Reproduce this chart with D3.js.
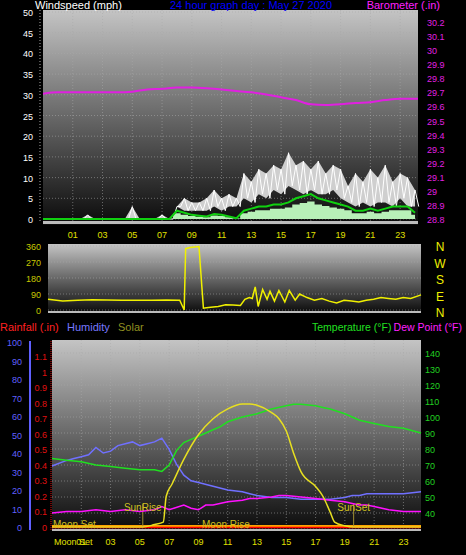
<!DOCTYPE html>
<html><head><meta charset="utf-8">
<script src="https://cdn.jsdelivr.net/npm/d3@7"></script>
<style>body{margin:0;background:#000}svg{display:block;font-family:"Liberation Sans",Arial,sans-serif}</style>
</head><body><div id="chart"></div>
<script>
// half-hour samples from -1h to 24h
var windGustHigh = [0,0,0,0,0,0,1,0,0,0,0,0,3,0,0,0,1,0,3,5,4,4,5,7,5,6,5,11,9,12,11,13,12,16,13,14,12,14,11,13,12,8,11,9,12,10,13,9,11,10,7];
var windGustLow  = [0,0,0,0,0,0,0,0,0,0,0,0,0,0,0,0,0,0,3,2,2,2,2,3,2,3,3,5,4,6,5,7,6,8,7,6,7,6,6,7,5,4,3,4,3,4,4,3,5,3,3];
var windAvg      = [0,0,0,0,0,0,0,0,0,0,0,0,0,0,0,0,0,0,2,1.5,1,0.8,0.6,1.2,1,0.6,0.2,2,2.5,3,3,3.5,3.5,4,5,5.5,6,5,4.5,4,3.5,3,2,2,2.5,2,2.5,3,3,3,1.5];
var baroHours  = [-1,0,1,2,3,4,5,6,7,8,9,10,11,12,13,14,15,16,17,18,19,20,21,22,23,24.2];
var baroValues = [29.69,29.70,29.70,29.70,29.70,29.70,29.705,29.72,29.725,29.735,29.735,29.73,29.72,29.71,29.70,29.685,29.665,29.645,29.615,29.61,29.615,29.625,29.63,29.645,29.655,29.655];
var dirHours  = [-1,0,1,2,3,4,5,6,7,7.9,8.2,8.3,8.6,9.2,9.5,9.7,10,10.5,11,11.5,12,12.3,12.6,12.8,13,13.2,13.5,13.8,14,14.3,14.6,15,15.3,15.7,16,16.5,17,17.5,18,18.5,19,19.5,20,20.5,21,21.5,22,22.5,23,23.5,24.2];
var dirValues = [60,50,55,57,56,55,55,55,56,55,0,345,352,357,10,12,15,20,30,28,25,60,70,65,130,20,115,60,105,50,110,45,110,55,90,70,55,65,50,40,55,50,45,55,60,70,65,60,70,65,85];
var tempHours  = [-1,0,1,2,3,4,5,6,6.5,7,7.5,8,8.5,9,10,10.5,11,12,13,14,15,15.5,16,17,17.5,18,19,19.5,20,21,22,23,24.2];
var tempValues = [74,73,72,70,69,68,67,67,66,70,79,84,86,88,92,94,97,100,102,105,107,108,108,107,106,105,102,100,98,96,94,93,90];
var humHours  = [-1,0,0.5,1,1.5,2,2.5,3,3.5,4,4.5,5,5.5,6,6.5,7,7.5,8,8.5,9,10,11,12,12.5,13,14,15,16,17,18,19,19.5,20,20.5,21,22,23,24.2];
var humValues = [33,36,37,38,39,43,40,41,44,45,46,44,45,46,48,42,34,28,25,24,22,20,19,18,17,16,16,15,15,15,16,17,17,18,18,18,18,19];
var dewHours  = [-1,0,1,2,3,4,5,6,6.5,7,8,8.5,9,9.5,10,11,12,12.5,13,14,14.5,15,16,17,18,19,19.5,20,20.5,21,22,23,24.2];
var dewValues = [40,41,41,42,41,42,41,42,44,42,45,43,42,45,45,47,48,49,49,50,51,51,50,49,48,47,46,45,45,44,42,41,41];
var solarHours  = [-1,5.2,6,6.6,6.8,7.2,8,9,10,11,12,12.5,13,14,14.5,15,15.5,16,17,17.5,18,18.3,19,19.6,24.2];
var solarValues = [0,0,0.02,0.04,0.25,0.35,0.55,0.75,0.88,0.96,1,1,0.99,0.93,0.88,0.78,0.6,0.45,0.33,0.25,0.12,0.04,0.01,0,0];
var hourTicks = [1,3,5,7,9,11,13,15,17,19,21,23];
var windTicks = d3.range(0, 55, 5);
var baroTicks = [28.8,28.9,29,29.1,29.2,29.3,29.4,29.5,29.6,29.7,29.8,29.9,30,30.1,30.2];
var dirTicks = [0,90,180,270,360];
var compass = ["N","W","S","E","N"];
var humTicks = d3.range(0, 110, 10);
var rainTicks = [0,0.1,0.2,0.3,0.4,0.5,0.6,0.7,0.8,0.9,1,1.1];
var tempTicks = [40,50,60,70,80,90,100,110,120,130,140];

var W = 466, H = 555;
var svg = d3.select("#chart").append("svg").attr("width", W).attr("height", H);
var defs = svg.append("defs");
var grad = defs.append("linearGradient").attr("id", "bg").attr("x1", 0).attr("y1", 0).attr("x2", 0).attr("y2", 1);
grad.append("stop").attr("offset", "0%").attr("stop-color", "#c4c4c4");
grad.append("stop").attr("offset", "100%").attr("stop-color", "#0a0a0a");
var fmtH = function(h) { return (h < 10 ? "0" : "") + h; };

function panel(x0, x1, y0, y1) {
  svg.append("rect").attr("x", x0).attr("y", y0).attr("width", x1 - x0).attr("height", y1 - y0).attr("fill", "url(#bg)");
}
function grid(xs, ys, x0, x1, y0, y1) {
  var g = svg.append("g").attr("stroke", "#aaa").attr("stroke-opacity", 0.55).attr("stroke-dasharray", "1,2");
  ys.forEach(function(y) { g.append("line").attr("x1", x0).attr("x2", x1).attr("y1", y).attr("y2", y); });
  xs.forEach(function(x) { g.append("line").attr("x1", x).attr("x2", x).attr("y1", y0).attr("y2", y1); });
}
function text(t, x, y, c, anchor, size) {
  return svg.append("text").attr("x", x).attr("y", y).attr("fill", c).attr("font-size", size || 11)
    .attr("text-anchor", anchor || "start").text(t);
}
var halfHours = windAvg.map(function(d, i) { return -1 + i * 0.5; });

// ---- panel 1: wind + barometer
var x1s = d3.scaleLinear().domain([-1, 24.2]).range([43, 418]);
var yW = d3.scaleLinear().domain([0, 50]).range([219, 12]);
var yB = d3.scaleLinear().domain([28.8, 30.2]).range([219, 22]);
panel(43, 418, 10, 225);
grid(hourTicks.map(x1s), windTicks.map(yW), 43, 418, 10, 225);
svg.append("rect").attr("x", 43).attr("y", 221).attr("width", 375).attr("height", 3).attr("fill", "#bbb");
svg.append("path").datum(halfHours)
  .attr("d", d3.area().x(function(h) { return x1s(h); })
    .y0(function(h, i) { return yW(windGustLow[i]); }).y1(function(h, i) { return yW(windGustHigh[i]); }))
  .attr("fill", "#cfcfcf");
var zig = [];
halfHours.forEach(function(h, i) { zig.push([h, windGustHigh[i]]); zig.push([h + 0.25, windGustLow[i]]); });
svg.append("path").datum(zig).attr("d", d3.line().x(function(d) { return x1s(d[0]); }).y(function(d) { return yW(d[1]); }))
  .attr("fill", "none").attr("stroke", "#fff").attr("stroke-width", 1);
svg.append("path").datum(halfHours)
  .attr("d", d3.area().x(function(h) { return x1s(h); }).y0(yW(0)).y1(function(h, i) { return yW(windAvg[i] * 0.7); }).curve(d3.curveStep))
  .attr("fill", "#b8f0b8");
svg.append("path").datum(halfHours)
  .attr("d", d3.line().x(function(h) { return x1s(h); }).y(function(h, i) { return yW(windAvg[i]); }))
  .attr("fill", "none").attr("stroke", "#10d010").attr("stroke-width", 2);
svg.append("path").datum(baroHours)
  .attr("d", d3.line().x(function(h) { return x1s(h); }).y(function(h, i) { return yB(baroValues[i]); }).curve(d3.curveMonotoneX))
  .attr("fill", "none").attr("stroke", "#e020e0").attr("stroke-width", 2);
windTicks.forEach(function(t) { text(t, 33, yW(t) + 4, "#fff", "end", 9); });
baroTicks.forEach(function(t) { text(t, 427, yB(t) + 4, "#e020e0", "start", 9); });
svg.append("line").attr("x1", 40).attr("x2", 40).attr("y1", 10).attr("y2", 222).attr("stroke", "#aaa").attr("stroke-dasharray", "1,2");
hourTicks.forEach(function(h) { text(fmtH(h), x1s(h), 238, "#e0e000", "middle", 9); });
text("Windspeed (mph)", 35, 9, "#fff", "start", 11);
text("24 hour graph day : May 27 2020", 251, 9, "#0000ff", "middle", 11);
text("Barometer (.in)", 440, 9, "#ff20ff", "end", 11);

// ---- panel 2: wind direction
var x2s = d3.scaleLinear().domain([-1, 24.2]).range([48, 421]);
var yD = d3.scaleLinear().domain([0, 360]).range([310, 246]);
panel(48, 421, 244, 313);
grid([], dirTicks.map(yD), 48, 421, 244, 313);
svg.append("rect").attr("x", 48).attr("y", 311).attr("width", 373).attr("height", 2).attr("fill", "#bbb");
svg.append("path").datum(dirHours)
  .attr("d", d3.line().x(function(h) { return x2s(h); }).y(function(h, i) { return yD(dirValues[i]); }))
  .attr("fill", "none").attr("stroke", "#f0f000").attr("stroke-width", 1.5);
dirTicks.forEach(function(t) { text(t, 41, yD(t) + 4, "#c8c800", "end", 9); });
compass.forEach(function(c, i) { text(c, 440, 251 + i * 16.5, "#f0f000", "middle", 12); });
text("Rainfall (.in)", 0, 331, "#ff2020", "start", 11);
text("Humidity", 67, 331, "#7878ff", "start", 11);
text("Solar", 118, 331, "#909020", "start", 11);
text("Temperature (°F)", 312, 331, "#20e020", "start", 10.5);
text("Dew Point (°F)", 462, 331, "#ff20ff", "end", 10.5);

// ---- panel 3: temp / humidity / solar
var x3s = d3.scaleLinear().domain([-1, 24.2]).range([52, 421]);
var yH = d3.scaleLinear().domain([0, 100]).range([527, 342]);
var yR = d3.scaleLinear().domain([0, 1.1]).range([527, 356]);
var yT = d3.scaleLinear().domain([40, 140]).range([513, 353]);
var yS = d3.scaleLinear().domain([0, 1]).range([527, 404]);
panel(52, 421, 340, 531);
grid(hourTicks.map(x3s), tempTicks.map(yT).concat([yT(30)]), 52, 421, 340, 531);
svg.append("rect").attr("x", 52).attr("y", 529).attr("width", 369).attr("height", 2).attr("fill", "#bbb");
svg.append("line").attr("x1", 52).attr("x2", 421).attr("y1", 526).attr("y2", 526).attr("stroke", "#ffa000").attr("stroke-width", 2);
svg.append("line").attr("x1", 52).attr("x2", 421).attr("y1", 527.5).attr("y2", 527.5).attr("stroke", "#ff0000").attr("stroke-width", 1.5);
[5.2, 19.6].forEach(function(h) {
  svg.append("line").attr("x1", x3s(h)).attr("x2", x3s(h)).attr("y1", 504).attr("y2", 527).attr("stroke", "#a09030").attr("stroke-width", 1);
});
function seriesLine(hours, vals, y, c, curve) {
  svg.append("path").datum(hours)
    .attr("d", d3.line().x(function(h) { return x3s(h); }).y(function(h, i) { return y(vals[i]); }).curve(curve || d3.curveLinear))
    .attr("fill", "none").attr("stroke", c).attr("stroke-width", 1.5);
}
seriesLine(humHours, humValues, yH, "#7070ff");
seriesLine(dewHours, dewValues, yT, "#ff10ff");
seriesLine(tempHours, tempValues, yT, "#20e020");
seriesLine(solarHours, solarValues, yS, "#e8e020", d3.curveMonotoneX);
text("SunRise", x3s(5.2), 511, "#d0c020", "middle", 10);
text("SunSet", x3s(19.6), 511, "#d0c020", "middle", 10);
text("Moon Set", 53, 528, "#d0c020", "start", 10);
text("Moon Rise", 202, 528, "#d0c020", "start", 10);
humTicks.forEach(function(t) { text(t, 22, yH(t) + 4, "#6060ff", "end", 9); });
svg.append("line").attr("x1", 30).attr("x2", 30).attr("y1", 341).attr("y2", 530).attr("stroke", "#6060ff").attr("stroke-width", 2);
rainTicks.forEach(function(t) { text(t, 47, yR(t) + 4, "#e01010", "end", 9); });
svg.append("line").attr("x1", 51).attr("x2", 51).attr("y1", 341).attr("y2", 530).attr("stroke", "#e01010").attr("stroke-dasharray", "1,1");
tempTicks.forEach(function(t) { text(t, 425, yT(t) + 4, "#20d020", "start", 9); });
hourTicks.forEach(function(h) { text(fmtH(h), x3s(h), 545, "#e0e000", "middle", 9); });
text("Moon Set", 54, 545, "#e0e000", "start", 9);
</script></body></html>
